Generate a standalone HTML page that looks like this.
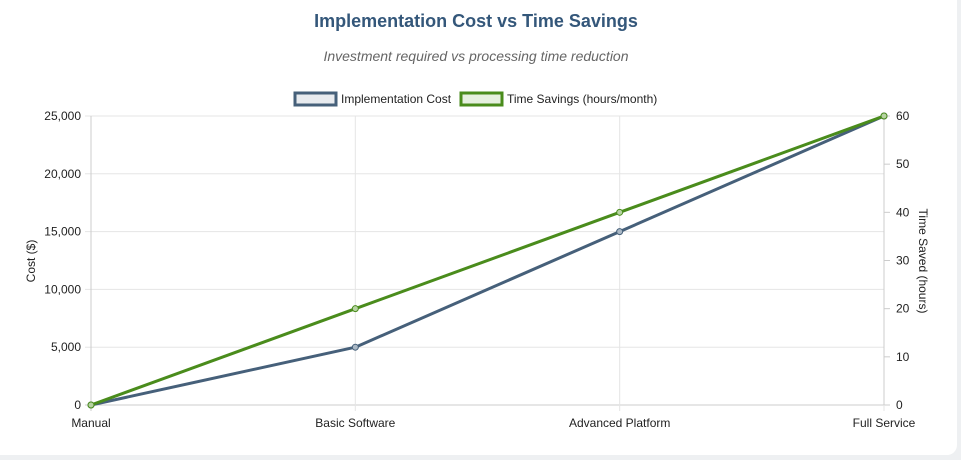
<!DOCTYPE html>
<html><head><meta charset="utf-8"><style>
body{margin:0;background:#eef0f2;width:961px;height:460px;overflow:hidden;font-family:"Liberation Sans",sans-serif}
#card{position:absolute;left:-12px;top:-12px;width:969px;height:467px;background:#fff;border-radius:10px}
svg{position:absolute;left:0;top:0}
</style></head><body>
<div id="card"></div>
<svg id="chart" width="961" height="460">
<text x="476" y="27" text-anchor="middle" font-size="18" font-weight="bold" fill="#34577a">Implementation Cost vs Time Savings</text>
<text x="476" y="61" text-anchor="middle" font-size="14" font-style="italic" fill="#666">Investment required vs processing time reduction</text>
<g><rect x="295" y="93" width="41" height="12" fill="#e8ebef" stroke="#46607a" stroke-width="3"/><text x="341" y="103" font-size="12" fill="#222">Implementation Cost</text></g>
<g><rect x="461" y="93" width="41" height="12" fill="#e6f0df" stroke="#4a8c1c" stroke-width="3"/><text x="507" y="103" font-size="12" fill="#222">Time Savings (hours/month)</text></g>
<text transform="translate(35,261) rotate(-90)" text-anchor="middle" font-size="12" fill="#222">Cost ($)</text>
<text transform="translate(919,261) rotate(90)" text-anchor="middle" font-size="12" fill="#222">Time Saved (hours)</text>
<g id="grid"></g><g id="marks"></g>
</svg>
<script>
const categories=["Manual","Basic Software","Advanced Platform","Full Service"];
const costValues=[0,5000,15000,25000];
const savingsValues=[0,20,40,60];
const leftTicks=[0,5000,10000,15000,20000,25000];
const rightTicks=[0,10,20,30,40,50,60];
const X0=91,X1=884,Y0=405,Y1=116;
const xs=i=>X0+(X1-X0)*i/(categories.length-1);
const yL=v=>Y0-(Y0-Y1)*v/25000;
const yR=v=>Y0-(Y0-Y1)*v/60;
const NS="http://www.w3.org/2000/svg";
const grid=document.getElementById('grid'),marks=document.getElementById('marks');
function mk(p,tag,a,t){const e=document.createElementNS(NS,tag);for(const k in a)e.setAttribute(k,a[k]);if(t!=null)e.textContent=t;p.appendChild(e);return e;}
leftTicks.forEach(v=>{const y=yL(v);
const l=mk(grid,'line',{x1:X0-6,x2:X1,y1:y,y2:y,stroke:v===0?'#ccc':'#e5e5e5'});


const t=mk(grid,'text',{x:X0-10,y:y+4,'text-anchor':'end','font-size':12,fill:'#222'},v.toLocaleString('en-US'));

});
rightTicks.forEach(v=>{const y=yR(v);
mk(grid,'line',{x1:X1,x2:X1+6,y1:y,y2:y,stroke:'#ccc'});
const t=mk(grid,'text',{x:X1+12,y:y+4,'font-size':12,fill:'#222'},v);

});
categories.forEach((c,i)=>{const x=xs(i);
const l=mk(grid,'line',{x1:x,x2:x,y1:Y1,y2:Y0+6,stroke:i===0?'#ccc':'#e5e5e5'});


const t=mk(grid,'text',{x:x,y:Y0+22,'text-anchor':'middle','font-size':12,fill:'#222'},c);

});
mk(grid,'line',{x1:X1,x2:X1,y1:Y1,y2:Y0,stroke:'#ccc'});
function series(vals,fy,col,fill,name){
const pl=mk(marks,'polyline',{points:vals.map((v,i)=>xs(i)+','+fy(v)).join(' '),fill:'none',stroke:col,'stroke-width':3,'stroke-linejoin':'round'});


vals.forEach((v,i)=>{const c=mk(marks,'circle',{cx:xs(i),cy:fy(v),r:3,fill:fill,stroke:col,'stroke-width':1});

});}
series(costValues,yL,'#46607a','#aab8c5','cost');
series(savingsValues,yR,'#4a8c1c','#b7d3a3','savings');
</script>
</body></html>
